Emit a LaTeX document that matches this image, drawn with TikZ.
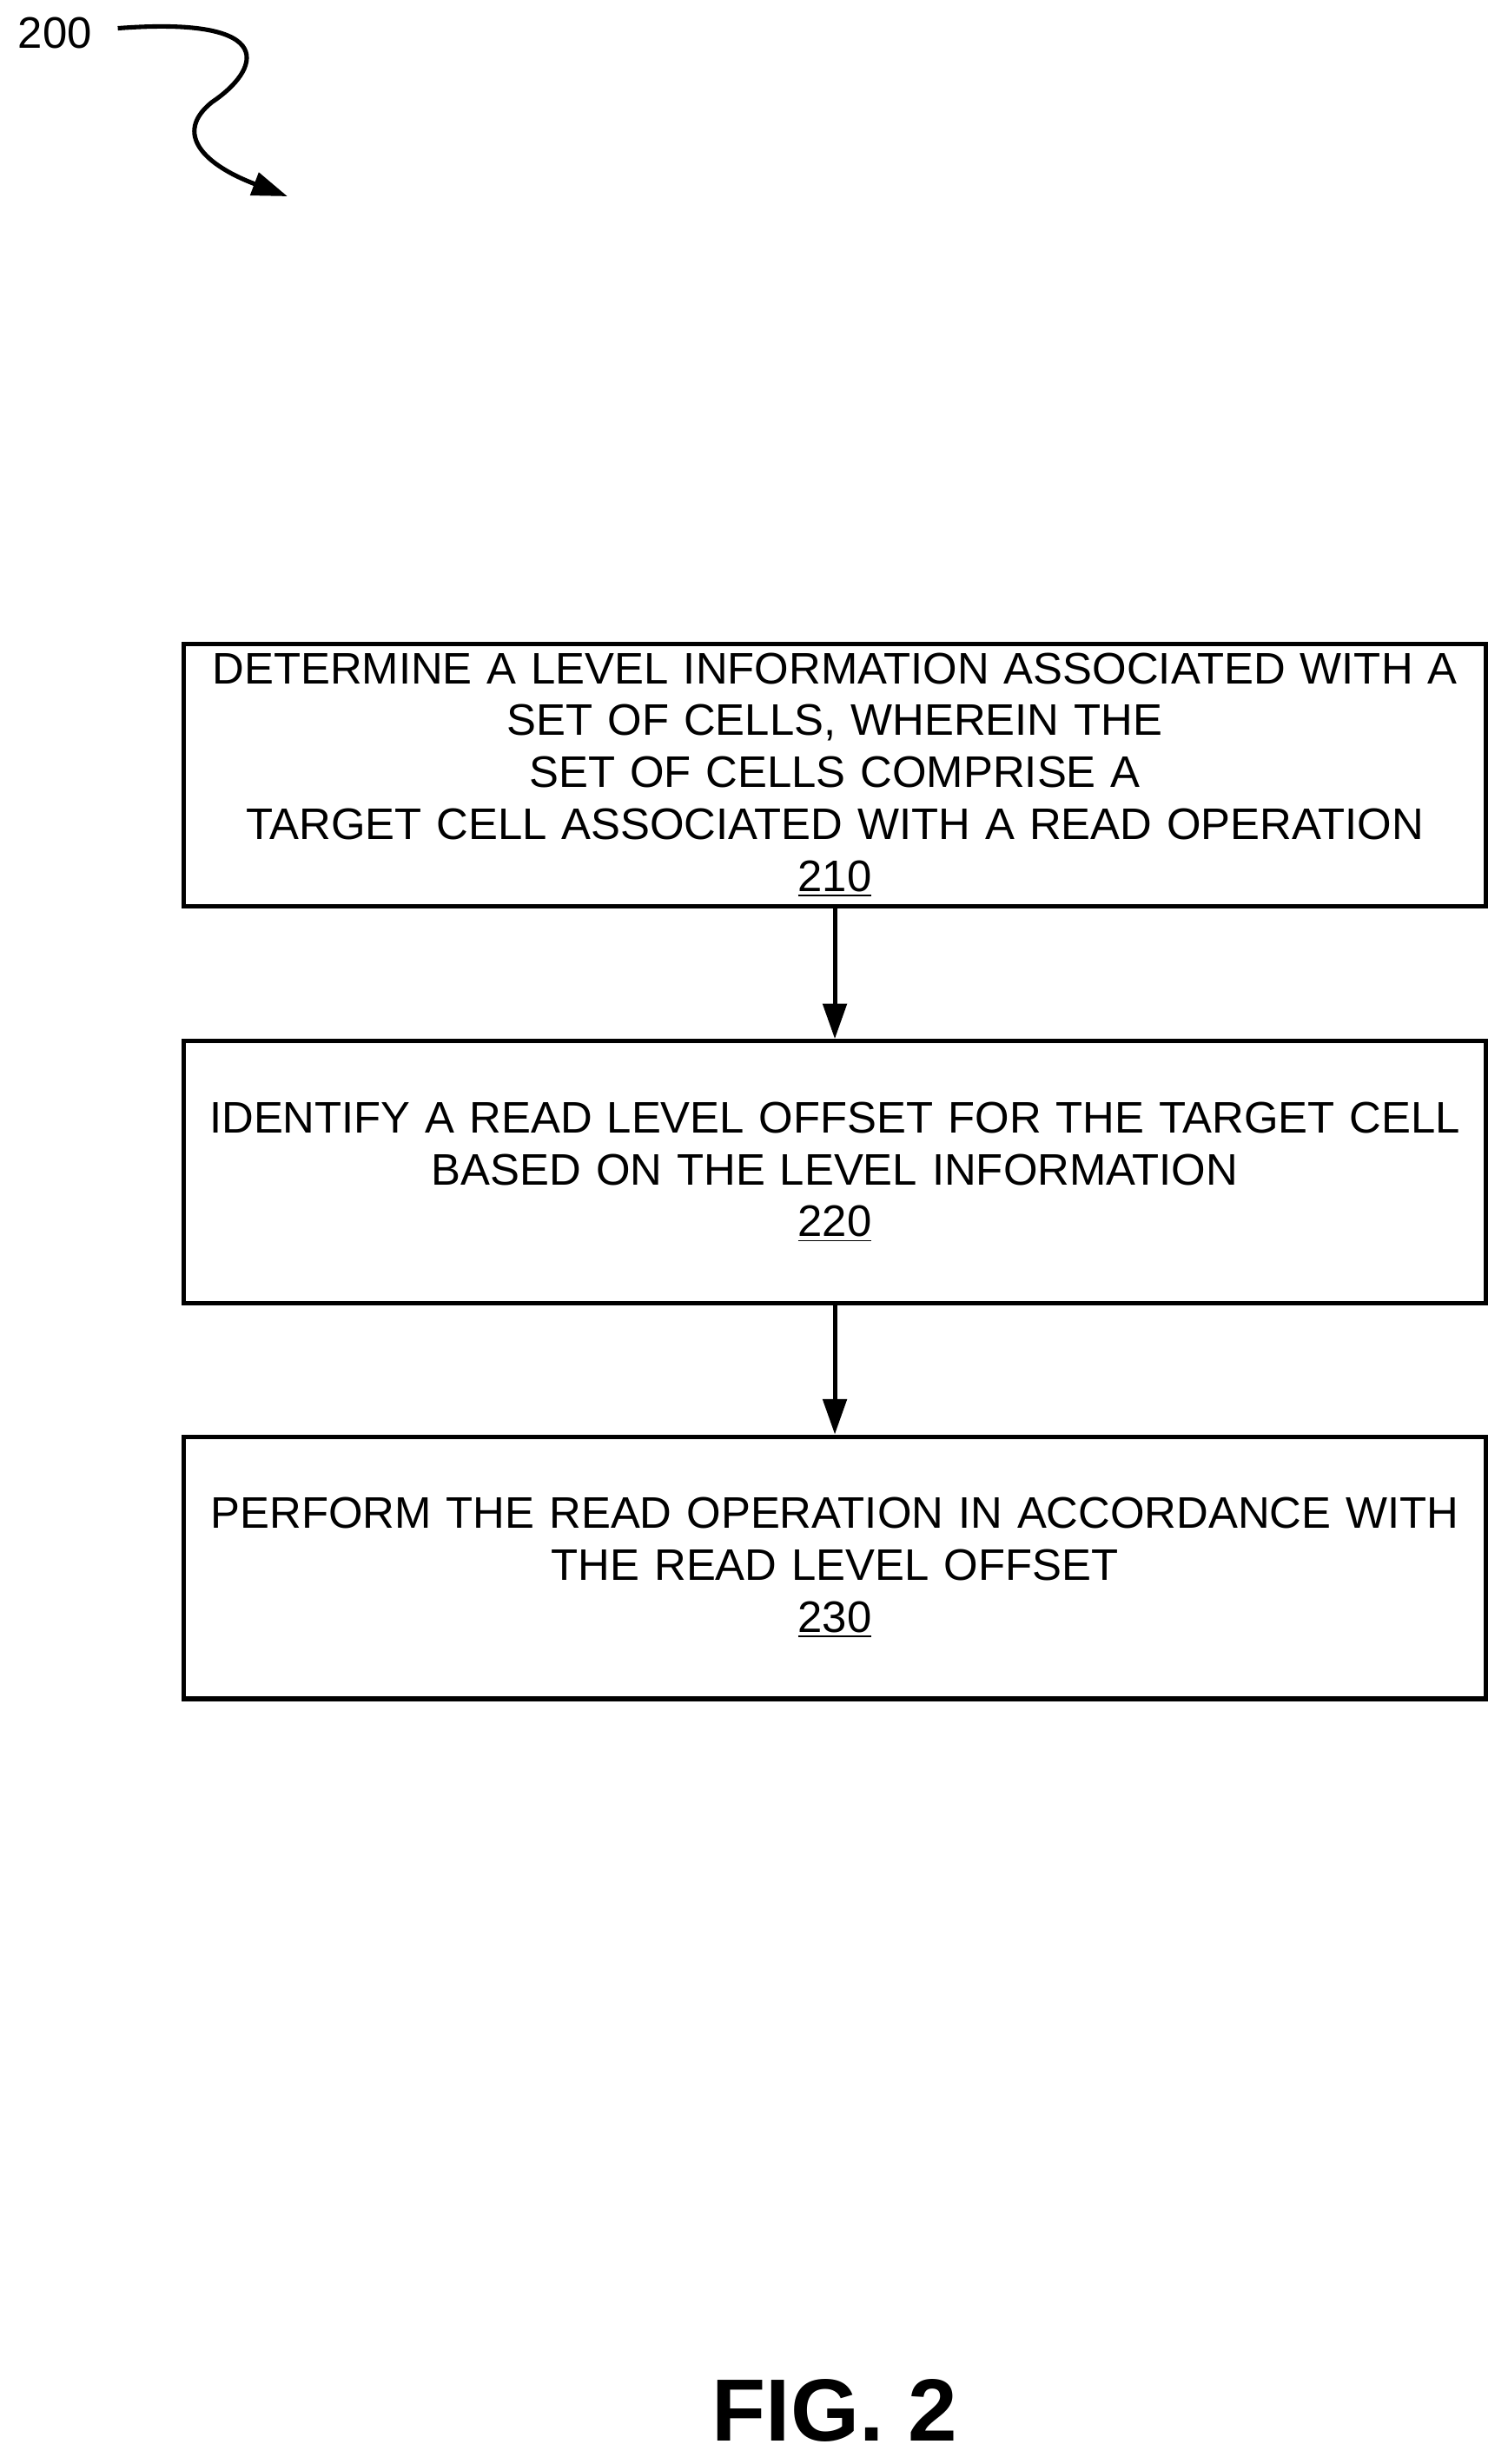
\documentclass[tikz,border=0pt]{standalone}
\usepackage{fontspec}
\setmainfont{Liberation Sans}
\usetikzlibrary{positioning,arrows.meta}
\tikzset{
  stepbox/.style={draw, line width=1.6pt, minimum width=16.58cm, minimum height=3.34cm,
    align=center, text width=16cm, font=\fontsize{16}{18.8}\selectfont},
  flow/.style={-{Triangle[length=0.45cm,width=0.3cm]}, line width=1.6pt}
}
\begin{document}
\begin{tikzpicture}
    \useasboundingbox (0,0) rectangle (19.2,-31.38);
    % reference label
    \node[font=\fontsize{16}{18}\selectfont] (ref) at (0.7,-0.42) {200};
    \coordinate (refend) at (3.66,-2.5);
    \draw[flow] (1.5,-0.36) .. controls (3.6,-0.2) and (3.3,-0.9) .. (2.7,-1.3)
        .. controls (2.2,-1.7) and (2.6,-2.1) .. (refend);

    % steps
    \node[stepbox] (s210) at (10.63,-9.87) {DETERMINE A LEVEL INFORMATION ASSOCIATED WITH A\\SET OF CELLS, WHEREIN THE SET OF CELLS COMPRISE A\\TARGET CELL ASSOCIATED WITH A READ OPERATION\\\underline{210}};
    \node[stepbox, below=1.66cm of s210] (s220) {IDENTIFY A READ LEVEL OFFSET FOR THE TARGET CELL\\BASED ON THE LEVEL INFORMATION\\\underline{220}};
    \node[stepbox, below=1.64cm of s220] (s230) {PERFORM THE READ OPERATION IN ACCORDANCE WITH\\THE READ LEVEL OFFSET\\\underline{230}};

    \draw[flow] (s210) -- (s220);
    \draw[flow] (s220) -- (s230);

    \node[font=\fontsize{32}{36}\selectfont\bfseries] (fig) at (10.63,-30.7) {FIG. 2};
\end{tikzpicture}
\end{document}
